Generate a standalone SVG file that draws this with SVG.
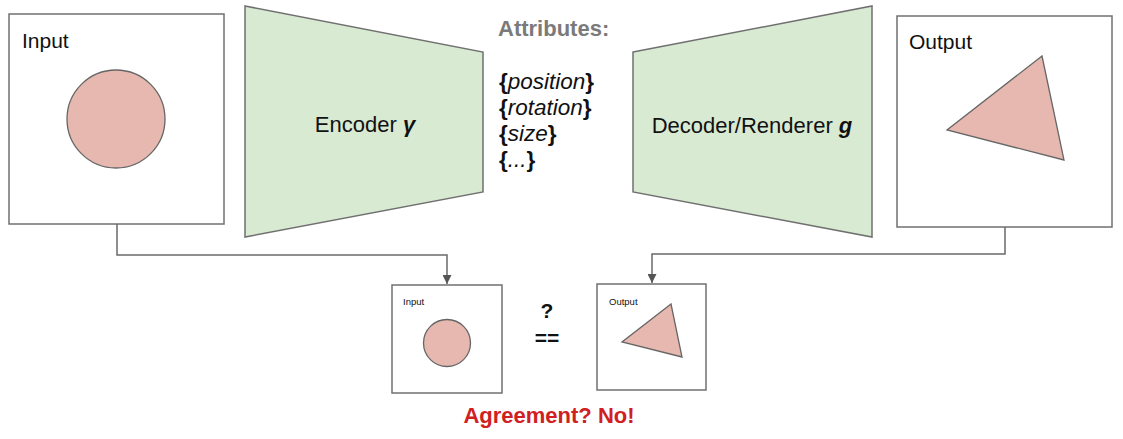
<svg xmlns="http://www.w3.org/2000/svg" width="1123" height="439" viewBox="0 0 1123 439">
<style>
.box{fill:#fff;stroke:#707070;stroke-width:1.5}
.trap{fill:#d9ead3;stroke:#707070;stroke-width:1.5}
.shape{fill:#e6b8af;stroke:#666;stroke-width:1.3}
.lbl{font-family:"Liberation Sans",Arial,sans-serif;font-size:21px;fill:#111}
.big{font-size:22px}
.sm{font-family:"Liberation Sans",Arial,sans-serif;font-size:9.5px;fill:#111}
.attr{font-family:"Liberation Sans",Arial,sans-serif;font-size:22.5px;fill:#111}
.b{font-weight:bold}
.i{font-style:italic}
.conn{fill:none;stroke:#6a6a6a;stroke-width:1.5}
</style>
<defs>
<marker id="arr" viewBox="0 0 10 10" refX="10" refY="5" markerWidth="6" markerHeight="6" markerUnits="strokeWidth" orient="auto">
<path d="M0,0 L10,5 L0,10 z" fill="#555"/>
</marker>
</defs>
<rect width="1123" height="439" fill="#fff"/>
<g id="input">
<rect class="box" x="9" y="14" width="215" height="210"/>
<text class="lbl" x="22" y="48">Input</text>
<circle class="shape" cx="116" cy="119" r="49"/>
</g>
<g id="encoder">
<polygon class="trap" points="245,6 483,52 483,192 245,237"/>
<text class="lbl big" x="365" y="132" text-anchor="middle">Encoder <tspan class="b i">γ</tspan></text>
</g>
<g id="attributes">
<text class="attr b" x="498" y="36" style="fill:#7a7a7a;font-size:22px">Attributes:</text>
<text class="attr" x="499" y="89"><tspan class="b">{</tspan><tspan class="i">position</tspan><tspan class="b">}</tspan></text>
<text class="attr" x="499" y="115"><tspan class="b">{</tspan><tspan class="i">rotation</tspan><tspan class="b">}</tspan></text>
<text class="attr" x="499" y="141"><tspan class="b">{</tspan><tspan class="i">size</tspan><tspan class="b">}</tspan></text>
<text class="attr" x="499" y="167"><tspan class="b">{</tspan><tspan class="i">...</tspan><tspan class="b">}</tspan></text>
</g>
<g id="decoder">
<polygon class="trap" points="633,52 872,6 872,237 633,192"/>
<text class="lbl big" x="752" y="133" text-anchor="middle">Decoder/Renderer <tspan class="b i">g</tspan></text>
</g>
<g id="output">
<rect class="box" x="897" y="16" width="215" height="211"/>
<text class="lbl" x="909" y="49">Output</text>
<polygon class="shape" points="1042,56 947,130 1064,160"/>
</g>
<g id="small-input">
<rect class="box" x="392" y="285" width="110" height="108"/>
<text class="sm" x="403" y="305">Input</text>
<circle class="shape" cx="447" cy="343" r="23.5"/>
</g>
<g id="small-output">
<rect class="box" x="597" y="284" width="109" height="106"/>
<text class="sm" x="609" y="305">Output</text>
<polygon class="shape" points="671,304 622,342 682,357"/>
</g>
<g id="compare">
<text class="lbl b" x="547" y="318" text-anchor="middle">?</text>
<text class="lbl b" x="547" y="345" text-anchor="middle">==</text>
<text class="lbl b" x="549" y="423" text-anchor="middle" style="fill:#d0201f;font-size:22px">Agreement? No!</text>
</g>
<g id="connectors">
<path class="conn" d="M117,224 V255 H447 V284" marker-end="url(#arr)"/>
<path class="conn" d="M1005,227 V254 H652 V283" marker-end="url(#arr)"/>
</g>
</svg>
